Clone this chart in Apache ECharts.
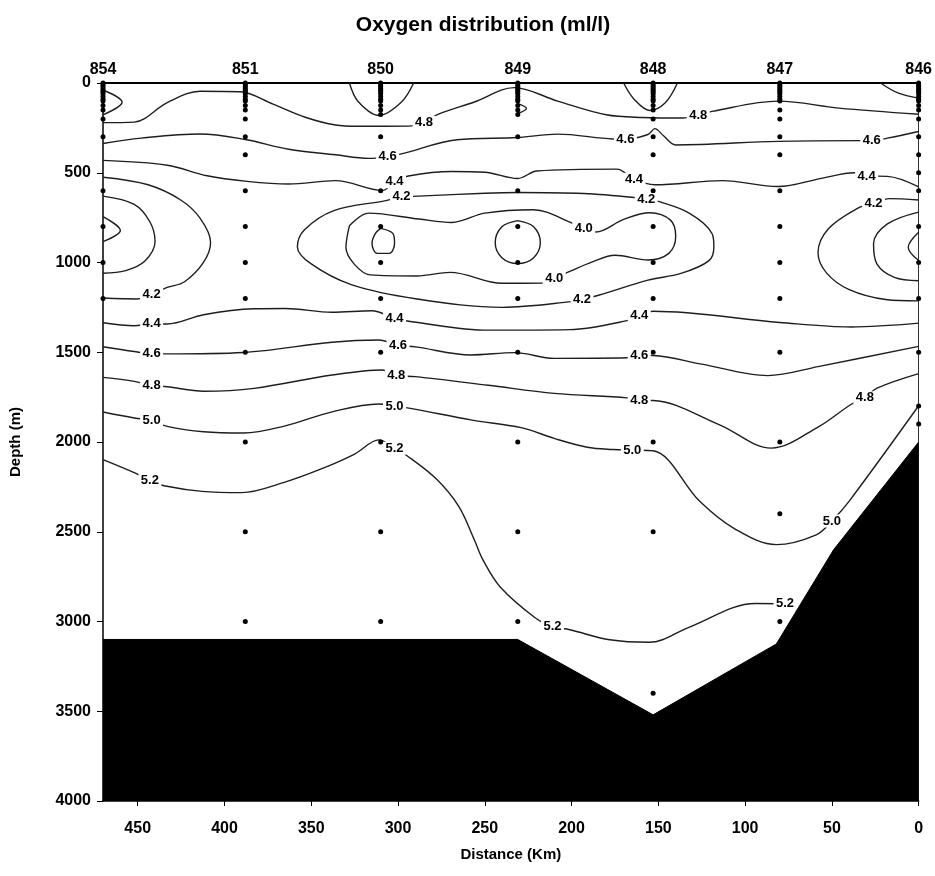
<!DOCTYPE html>
<html>
<head>
<meta charset="utf-8">
<script src="https://cdn.jsdelivr.net/npm/echarts@6.0.0/dist/echarts.min.js"></script>
<style>html,body{margin:0;padding:0;background:#fff;}#chart{width:935px;height:876px;}</style>
</head>
<body>
<div id="chart"></div>
<script>
// ---------- data (distance km, depth m) ----------
const stationNames = ['854','851','850','849','848','847','846'];
const stationDist = [470, 388, 310, 231, 153, 80, 0];
const stationDepths = [
  [0,10,20,30,40,50,60,75,90,100,125,150,200,300,600,800,1000,1200],
  [0,10,20,30,40,50,60,75,90,100,125,150,200,300,400,600,800,1000,1200,1500,2000,2500,3000],
  [0,10,20,30,40,50,60,75,90,100,125,150,175,300,400,600,800,1000,1200,1500,2000,2500,3000],
  [0,10,20,30,40,50,60,75,90,100,125,150,175,300,600,800,1000,1200,1500,2000,2500,3000],
  [0,10,20,30,40,50,60,75,90,100,125,150,200,300,400,600,800,1000,1200,1500,2000,2500,3400],
  [0,10,20,30,40,50,60,75,90,100,150,200,300,400,600,800,1000,1200,1500,2000,2400,3000],
  [0,10,20,30,40,50,60,75,90,100,125,150,200,300,400,500,600,800,1000,1200,1500,1800,1900]
];
const bathymetry = [[470,3100],[231,3100],[153,3520],[82,3125],[49,2600],[0,2000]];

const xTicks = [0,50,100,150,200,250,300,350,400,450];
const yTicks = [0,500,1000,1500,2000,2500,3000,3500,4000];

const c48Top = [[470,221],[452,218],[433,109],[414,46],[391,49],[372,118],[353,192],[336,234],[323,241],[294,240],[285,219],[277,175],[256,106],[233,26],[208,101],[180,177],[159,192],[136,195],[127,179],[119,158],[81,101],[46,140],[0,174]];
const c46Top = [[470,337],[448,307],[414,284],[388,315],[363,369],[336,400],[317,420],[306,410],[298,395],[266,316],[231,304],[208,285],[176,312],[169,313],[156,287],[152,254],[147,294],[140,345],[81,325],[33,321],[27,322],[18,307],[0,270]];
const c44Top = [[470,431],[433,458],[410,517],[387,548],[363,563],[336,544],[309,599],[302,550],[294,518],[269,493],[250,497],[231,532],[220,490],[174,480],[164,537],[152,567],[113,544],[81,577],[56,531],[37,500],[30,518],[18,520],[0,579]];
const c42Left = [[470,525],[444,567],[425,653],[414,754],[408,887],[412,998],[423,1107],[433,1139],[442,1176],[450,1203],[470,1198]];
const c40Left = [[470,630],[452,676],[443,773],[440,883],[446,993],[457,1045],[470,1060]];
const c38Left = [[470,745],[460,822],[470,884]];
const cSurf854 = [[470,39],[459,107],[470,177]];
const cSurf850 = [[328,0],[323,103],[311,181],[298,106],[291,0]];
const cSurf849 = [[231,115],[226,142],[231,170]];
const cSurf848 = [[170,0],[164,90],[155,153],[146,110],[139,0]];
const cSurf846 = [[22,0],[12,55],[0,84]];
const c42Loop = [[298,634],[288,630],[250,614],[231,610],[193,616],[164,638],[157,650],[151,657],[132,726],[119,840],[118,913],[121,991],[137,1061],[156,1098],[184,1181],[194,1205],[200,1218],[240,1250],[289,1203],[327,1123],[350,1008],[358,913],[354,819],[337,711],[307,655],[298,634]];
const c40Loop = [[328,795],[317,725],[288,758],[269,777],[250,725],[222,706],[199,783],[193,811],[186,830],[170,760],[155,723],[143,764],[140,854],[144,949],[156,986],[175,960],[188,997],[201,1050],[210,1088],[217,1115],[240,1116],[270,1055],[289,1075],[316,1069],[325,1012],[330,917],[328,795]];
const c38Loop850 = [[310,810],[303,838],[302,893],[305,949],[312,949],[315,893],[313,838],[310,810]];
const c38Loop849 = [[231,767],[222,800],[218,889],[222,975],[231,1006],[240,975],[244,889],[240,800],[231,767]];
const c42Right = [[0,652],[17,644],[26,670],[35,697],[52,812],[58,946],[53,1059],[40,1151],[19,1206],[0,1214]];
const c40Right = [[0,719],[18,785],[26,895],[24,1009],[14,1083],[0,1102]];
const c38Right = [[0,832],[6,916],[0,989]];
const c44Low = [[470,1336],[452,1352],[442,1342],[433,1343],[412,1291],[383,1258],[365,1256],[338,1277],[315,1269],[302,1312],[292,1330],[248,1377],[201,1374],[168,1324],[161,1293],[153,1272],[80,1334],[39,1359],[0,1338]];
const c46Low = [[470,1469],[452,1496],[442,1508],[433,1509],[389,1501],[338,1444],[311,1432],[300,1462],[290,1470],[258,1515],[233,1502],[210,1534],[168,1531],[161,1517],[153,1518],[125,1566],[87,1630],[58,1580],[0,1467]];
const c48Low = [[470,1640],[452,1662],[442,1685],[433,1692],[412,1717],[383,1701],[338,1627],[309,1599],[301,1629],[290,1636],[248,1684],[210,1729],[168,1754],[161,1768],[153,1769],[115,1903],[85,2034],[58,1917],[39,1791],[31,1754],[24,1700],[0,1619]];
const c50 = [[470,1833],[452,1866],[442,1879],[433,1913],[412,1943],[389,1950],[365,1910],[338,1832],[311,1788],[302,1801],[292,1814],[258,1877],[229,1920],[210,1980],[191,2029],[176,2042],[165,2045],[153,2049],[126,2332],[106,2484],[82,2572],[59,2517],[50,2440],[40,2329],[0,1798]];
const c52 = [[470,2098],[452,2171],[443,2216],[434,2245],[413,2275],[390,2282],[366,2226],[345,2153],[325,2067],[311,1988],[302,2035],[295,2075],[278,2205],[265,2359],[256,2546],[251,2658],[241,2809],[221,2979],[211,3028],[201,3046],[178,3102],[155,3116],[133,3035],[94,2900],[77,2902],[70,2940]];

const contourLabels = [
  [285,219,'4.8'],[127,179,'4.8'],
  [306,410,'4.6'],[169,313,'4.6'],[27,322,'4.6'],
  [302,550,'4.4'],[164,537,'4.4'],[30,518,'4.4'],
  [298,634,'4.2'],[157,650,'4.2'],[26,670,'4.2'],
  [193,811,'4.0'],[210,1088,'4.0'],
  [194,1205,'4.2'],[442,1176,'4.2'],
  [442,1342,'4.4'],[302,1312,'4.4'],[161,1293,'4.4'],
  [442,1508,'4.6'],[300,1462,'4.6'],[161,1517,'4.6'],
  [442,1685,'4.8'],[301,1629,'4.8'],[161,1768,'4.8'],[31,1754,'4.8'],
  [442,1879,'5.0'],[302,1801,'5.0'],[165,2045,'5.0'],[50,2440,'5.0'],
  [443,2216,'5.2'],[302,2035,'5.2'],[211,3028,'5.2'],[77,2902,'5.2']
];

// ---------- chart ----------
const FONT = 'Liberation Sans';
const contours = [c48Top,c46Top,c44Top,c42Left,c40Left,c38Left,cSurf854,cSurf850,cSurf849,cSurf848,cSurf846,
  c42Loop,c40Loop,c38Loop850,c38Loop849,c42Right,c40Right,c38Right,c44Low,c46Low,c48Low,c50,c52];

const series = [];
contours.forEach(c => series.push({
  type:'line', data:c, smooth:0.35, symbol:'none', showSymbol:false, silent:true,
  lineStyle:{color:'#1e1e1e', width:1.4}, z:2
}));
series.push({
  type:'line', data:bathymetry, symbol:'none', silent:true,
  lineStyle:{color:'#000', width:1}, areaStyle:{color:'#000', opacity:1, origin:'end'}, z:3
});
const dots = [];
stationDist.forEach((d,i) => stationDepths[i].forEach(z => dots.push([d,z])));
series.push({
  type:'scatter', data:dots, symbol:'circle', symbolSize:5, silent:true,
  itemStyle:{color:'#000', opacity:1}, z:4
});
series.push({
  type:'scatter', silent:true, z:6,
  data: contourLabels.map(p => ({value:[p[0],p[1]], name:p[2]})),
  symbol:'rect', symbolSize:[23,13], itemStyle:{color:'#fff', opacity:1},
  label:{show:true, position:'inside', formatter:'{b}', color:'#000', textBorderWidth:0,
    fontWeight:'bold', fontSize:13, fontFamily:FONT}
});

const chart = echarts.init(document.getElementById('chart'), null, {renderer:'canvas'});
chart.setOption({
  animation:false,
  backgroundColor:'#fff',
  title:{text:'Oxygen distribution (ml/l)', left:478, textAlign:'center', top:10,
    textStyle:{fontSize:21, fontWeight:'bold', fontFamily:FONT, color:'#000'}},
  grid:{left:99, right:15, top:83, bottom:75},
  xAxis:[
    {type:'value', min:0, max:470, inverse:true, interval:50, position:'bottom',
     name:'Distance (Km)', nameLocation:'middle', nameGap:46,
     nameTextStyle:{fontSize:15, fontWeight:'bold', fontFamily:FONT, color:'#000'},
     axisLine:{show:true, onZero:false, lineStyle:{color:'#000', width:1.5}},
     axisTick:{show:true, length:5, lineStyle:{color:'#000'}, customValues:xTicks},
     splitLine:{show:false},
     axisLabel:{customValues:xTicks, formatter:v => String(v), fontSize:16, fontWeight:'bold', fontFamily:FONT, color:'#000', margin:20}},
    {type:'value', min:0, max:470, inverse:true, position:'top',
     axisLine:{show:true, onZero:false, lineStyle:{color:'#000', width:2}},
     axisTick:{show:false}, splitLine:{show:false},
     axisLabel:{customValues:stationDist, formatter:v => stationNames[stationDist.indexOf(v)] || '',
       showMinLabel:true, showMaxLabel:true,
       fontSize:16, fontWeight:'bold', fontFamily:FONT, color:'#000', margin:5}}
  ],
  yAxis:[
    {type:'value', min:0, max:4000, interval:500, inverse:true, position:'left',
     name:'Depth (m)', nameLocation:'middle', nameGap:80, nameRotate:90,
     nameTextStyle:{fontSize:15, fontWeight:'bold', fontFamily:FONT, color:'#000'},
     axisLine:{show:true, onZero:false, lineStyle:{color:'#000', width:1.5}},
     axisTick:{show:true, length:6, lineStyle:{color:'#000'}},
     splitLine:{show:false},
     axisLabel:{customValues:yTicks, formatter:v => String(v), fontSize:16, fontWeight:'bold', fontFamily:FONT, color:'#000', margin:12}},
    {type:'value', min:0, max:4000, inverse:true, position:'right',
     axisLine:{show:true, onZero:false, lineStyle:{color:'#333', width:1}},
     axisTick:{show:false}, axisLabel:{show:false}, splitLine:{show:false}}
  ],
  series: series
});
</script>
</body>
</html>
